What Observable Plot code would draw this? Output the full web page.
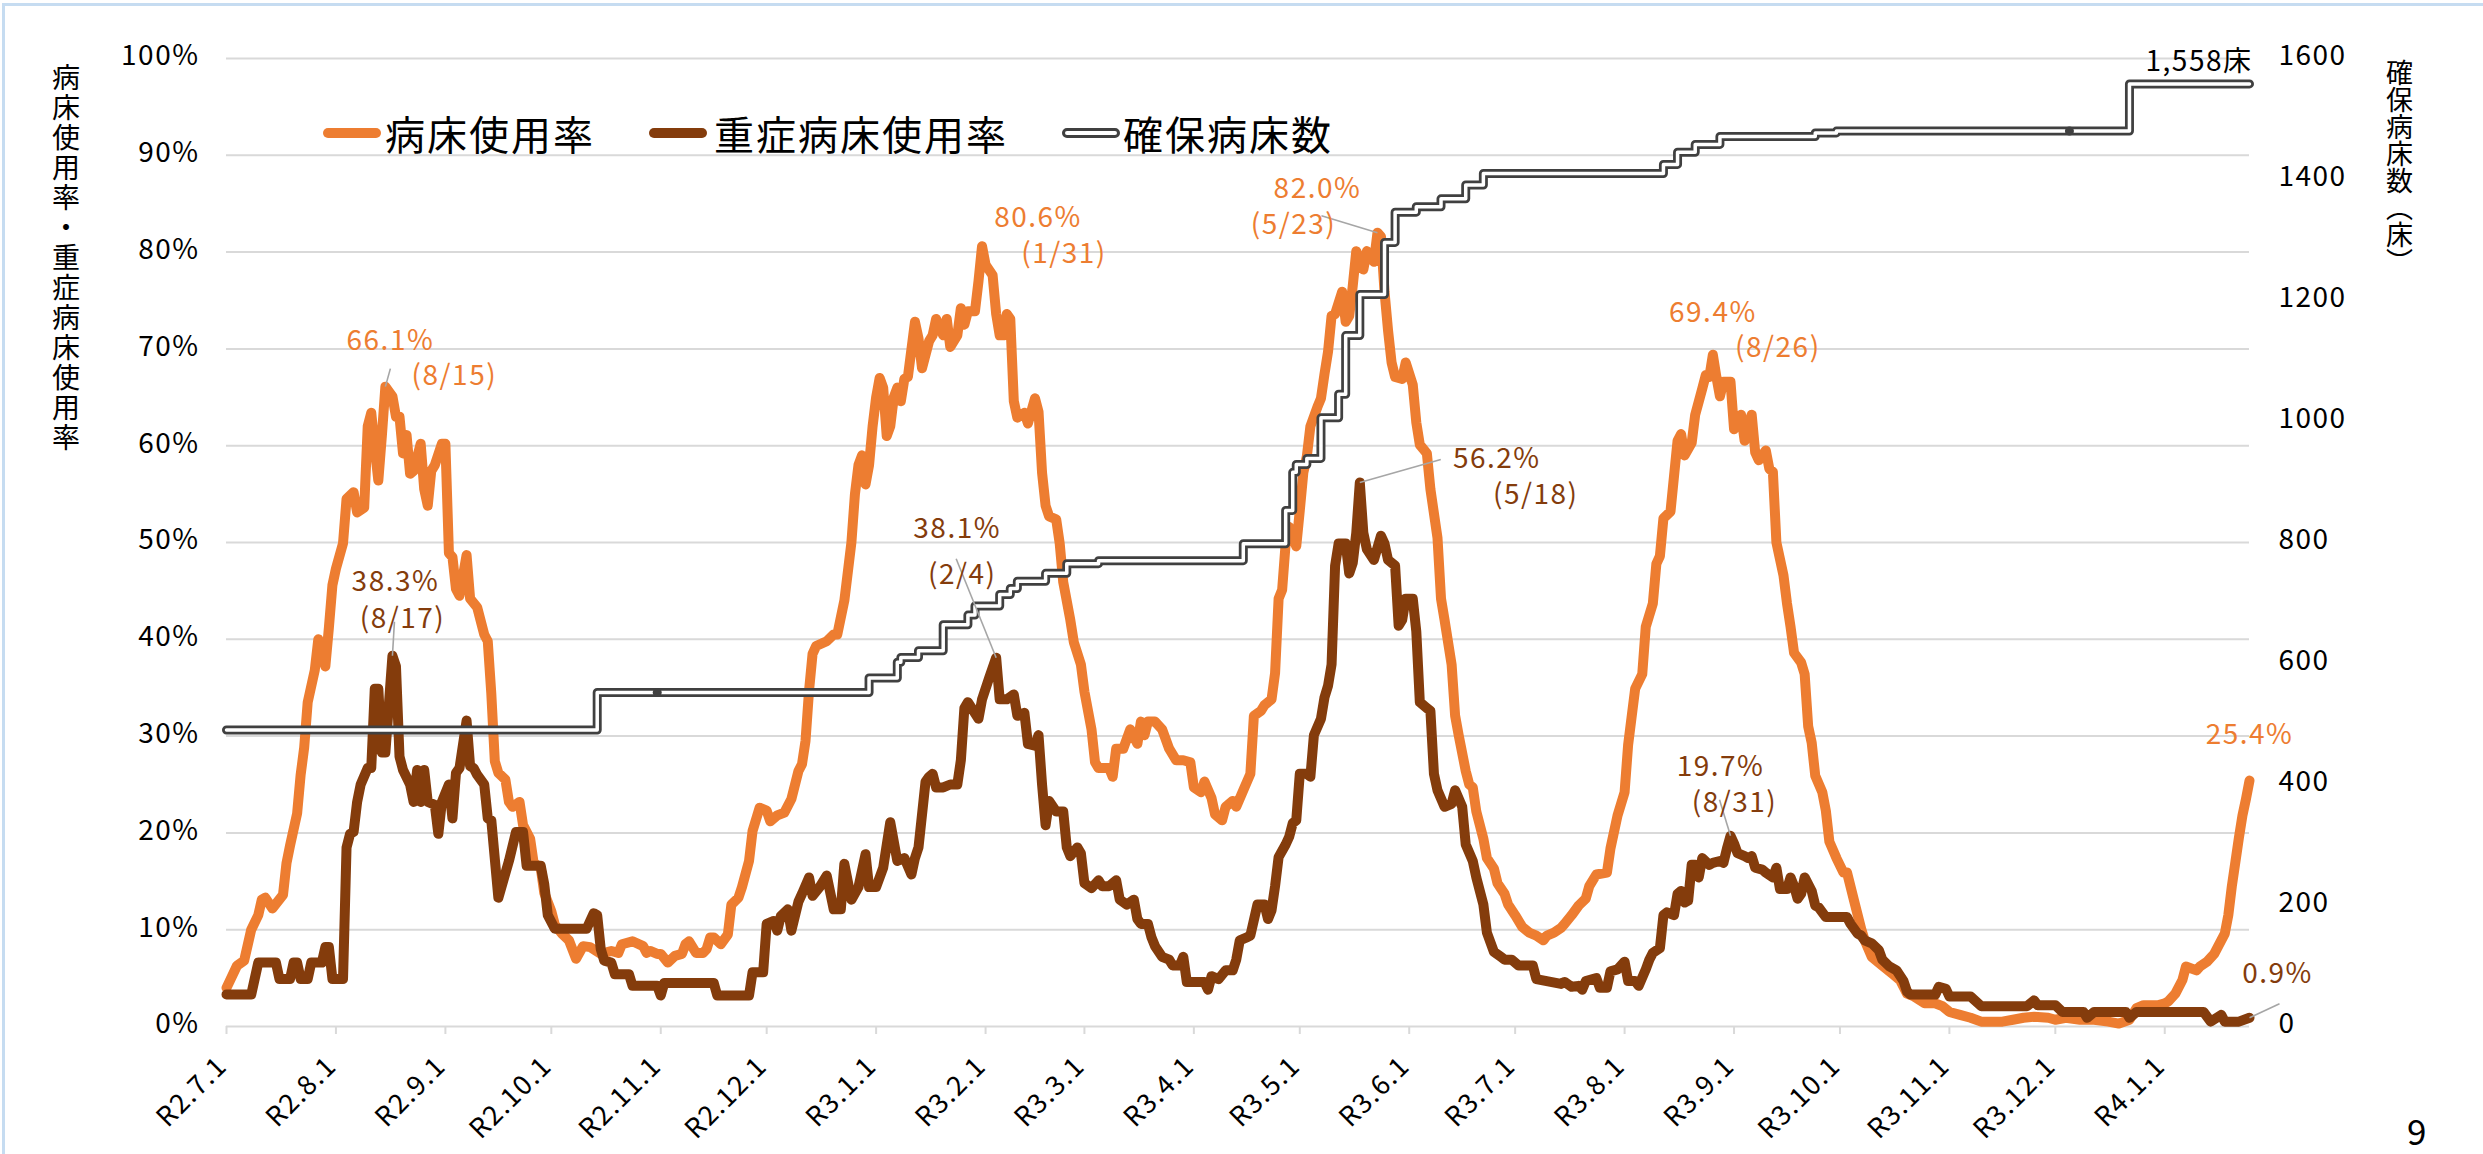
<!DOCTYPE html>
<html>
<head>
<meta charset="utf-8">
<script src="https://cdn.jsdelivr.net/npm/d3@7"></script>
<script src="https://cdn.jsdelivr.net/npm/@observablehq/plot@0.6"></script>
<style>
  html, body { margin: 0; padding: 0; background: #fff; }
  #wrap { position: relative; width: 2483px; height: 1154px; overflow: hidden; background: #fff;
          font-family: "Noto Sans CJK JP", "Noto Sans", sans-serif; color: #000; }
  #chart { position: absolute; left: 0; top: 0; }
  #chart svg text { letter-spacing: 1.5px; }
  #frame { position: absolute; left: 2px; top: 3px; right: 0; bottom: 0;
           border-top: 3px solid #c6dcf1; border-left: 3px solid #c6dcf1; pointer-events: none; }
  #legend { position: absolute; left: 323px; top: 109px; height: 48px; display: flex; align-items: center;
            font-size: 40px; line-height: 48px; letter-spacing: 2px; white-space: nowrap; }
  #legend .sw { display: inline-block; width: 58px; height: 10px; border-radius: 5px; box-sizing: border-box; }
  .vtitle { position: absolute; writing-mode: vertical-rl; white-space: nowrap; line-height: 1; }
  #page { position: absolute; left: 2407px; top: 1112px; font-size: 35px; line-height: 35px; }
</style>
</head>
<body>
<div id="wrap">
  <div id="chart"></div>
  <div id="frame"></div>
  <div id="legend"></div>
  <div id="ytitleL" class="vtitle"></div>
  <div id="ytitleR" class="vtitle"></div>
  <div id="page"></div>
</div>
<script>
// ---------------- DATA ----------------
const dateRange = ["2020-07-01", "2022-01-25"];

// 病床使用率 (%)
const occupancyRate = [
["2020-07-01",4.0],["2020-07-04",6.3],["2020-07-06",6.8],["2020-07-08",10.0],["2020-07-10",11.5],["2020-07-11",13.1],
["2020-07-12",13.3],["2020-07-14",12.2],["2020-07-17",13.6],["2020-07-18",16.9],["2020-07-19",18.7],["2020-07-21",22.0],
["2020-07-22",26.0],["2020-07-23",28.8],["2020-07-24",33.5],["2020-07-26",36.8],["2020-07-27",40.0],["2020-07-29",37.2],
["2020-07-30",41.2],["2020-07-31",45.6],["2020-08-01",47.3],["2020-08-03",49.9],["2020-08-04",54.5],["2020-08-06",55.2],
["2020-08-07",53.1],["2020-08-09",53.6],["2020-08-10",62.0],["2020-08-11",63.4],["2020-08-12",59.7],["2020-08-13",56.4],
["2020-08-14",61.0],["2020-08-15",66.1],["2020-08-17",65.1],["2020-08-18",63.0],["2020-08-19",63.0],["2020-08-20",59.2],
["2020-08-21",61.1],["2020-08-22",57.1],["2020-08-23",57.4],["2020-08-25",60.2],["2020-08-26",55.5],["2020-08-27",53.8],
["2020-08-28",57.4],["2020-08-29",58.0],["2020-08-31",60.2],["2020-09-01",60.2],["2020-09-02",48.9],["2020-09-03",48.5],
["2020-09-04",45.2],["2020-09-05",44.5],["2020-09-07",48.7],["2020-09-08",44.2],["2020-09-10",43.3],["2020-09-12",40.5],
["2020-09-13",39.8],["2020-09-14",34.4],["2020-09-15",27.4],["2020-09-16",26.2],["2020-09-18",25.5],["2020-09-19",23.2],
["2020-09-20",22.7],["2020-09-22",23.2],["2020-09-23",20.8],["2020-09-25",19.4],["2020-09-26",16.9],["2020-09-28",16.4],
["2020-09-29",13.8],["2020-10-01",11.9],["2020-10-02",10.5],["2020-10-04",9.6],["2020-10-06",8.9],["2020-10-08",7.0],
["2020-10-10",8.3],["2020-10-12",8.2],["2020-10-15",7.5],["2020-10-18",7.8],["2020-10-20",7.6],["2020-10-21",8.5],
["2020-10-24",8.8],["2020-10-27",8.3],["2020-10-28",7.6],["2020-10-29",7.8],["2020-10-31",7.5],["2020-11-01",7.5],
["2020-11-03",6.6],["2020-11-05",7.3],["2020-11-07",7.5],["2020-11-08",8.5],["2020-11-09",8.8],["2020-11-11",7.6],
["2020-11-13",7.6],["2020-11-14",8.0],["2020-11-15",9.2],["2020-11-16",9.2],["2020-11-18",8.5],["2020-11-20",9.5],
["2020-11-21",12.6],["2020-11-23",13.3],["2020-11-24",14.4],["2020-11-26",17.1],["2020-11-27",20.2],["2020-11-29",22.6],
["2020-12-01",22.3],["2020-12-02",21.2],["2020-12-04",21.8],["2020-12-06",22.1],["2020-12-08",23.5],["2020-12-10",26.4],
["2020-12-11",27.1],["2020-12-12",29.5],["2020-12-13",34.7],["2020-12-14",38.5],["2020-12-15",39.3],["2020-12-18",39.8],
["2020-12-20",40.5],["2020-12-21",40.5],["2020-12-23",44.0],["2020-12-24",47.0],["2020-12-25",50.0],["2020-12-26",55.0],
["2020-12-27",58.0],["2020-12-28",59.0],["2020-12-29",56.0],["2020-12-30",58.0],["2020-12-31",62.0],["2021-01-01",65.0],
["2021-01-02",67.0],["2021-01-03",66.0],["2021-01-04",61.0],["2021-01-05",62.0],["2021-01-06",65.0],["2021-01-07",66.0],
["2021-01-08",64.6],["2021-01-09",66.9],["2021-01-10",67.1],["2021-01-12",72.8],["2021-01-13",71.1],["2021-01-14",68.0],
["2021-01-16",70.8],["2021-01-17",71.4],["2021-01-18",73.1],["2021-01-20",71.4],["2021-01-21",73.1],["2021-01-22",70.2],
["2021-01-24",71.4],["2021-01-25",74.2],["2021-01-26",72.5],["2021-01-27",73.9],["2021-01-29",73.9],["2021-01-30",77.0],
["2021-01-31",80.6],["2021-02-01",78.7],["2021-02-03",77.6],["2021-02-04",73.6],["2021-02-05",71.4],["2021-02-06",71.4],
["2021-02-07",73.6],["2021-02-08",73.1],["2021-02-09",64.6],["2021-02-10",62.9],["2021-02-12",63.4],["2021-02-13",62.3],
["2021-02-15",64.9],["2021-02-16",63.5],["2021-02-17",57.2],["2021-02-18",53.8],["2021-02-19",52.7],["2021-02-21",52.4],
["2021-02-22",49.9],["2021-02-23",45.9],["2021-02-25",42.0],["2021-02-26",39.7],["2021-02-28",37.4],["2021-03-01",34.6],
["2021-03-03",30.7],["2021-03-04",27.3],["2021-03-05",26.7],["2021-03-07",26.7],["2021-03-08",26.7],["2021-03-09",25.8],
["2021-03-10",28.7],["2021-03-12",28.7],["2021-03-14",30.7],["2021-03-16",29.2],["2021-03-17",31.5],["2021-03-18",30.1],
["2021-03-19",31.5],["2021-03-21",31.5],["2021-03-23",30.7],["2021-03-25",28.7],["2021-03-27",27.5],["2021-03-29",27.5],
["2021-03-31",27.3],["2021-04-01",24.7],["2021-04-03",24.2],["2021-04-04",25.3],["2021-04-06",23.6],["2021-04-07",21.9],
["2021-04-09",21.3],["2021-04-10",22.7],["2021-04-12",23.3],["2021-04-13",22.7],["2021-04-15",24.4],["2021-04-17",26.1],
["2021-04-18",32.1],["2021-04-20",32.6],["2021-04-21",33.2],["2021-04-23",33.8],["2021-04-24",36.5],["2021-04-25",44.2],
["2021-04-26",45.1],["2021-04-27",49.9],["2021-04-28",51.6],["2021-04-29",50.5],["2021-04-30",49.6],["2021-05-01",53.3],
["2021-05-02",57.2],["2021-05-03",58.9],["2021-05-04",62.0],["2021-05-06",64.0],["2021-05-07",64.9],["2021-05-08",67.4],
["2021-05-09",69.7],["2021-05-10",73.4],["2021-05-11",73.6],["2021-05-13",75.9],["2021-05-14",72.8],["2021-05-15",73.4],
["2021-05-16",76.5],["2021-05-17",80.1],["2021-05-19",78.2],["2021-05-20",80.1],["2021-05-22",79.0],["2021-05-23",82.0],
["2021-05-24",81.6],["2021-05-25",75.9],["2021-05-26",71.9],["2021-05-27",68.6],["2021-05-28",67.1],["2021-05-30",66.9],
["2021-05-31",68.6],["2021-06-02",66.3],["2021-06-03",62.4],["2021-06-04",60.1],["2021-06-06",59.2],["2021-06-07",55.5],
["2021-06-09",50.5],["2021-06-10",44.2],["2021-06-11",42.0],["2021-06-13",37.4],["2021-06-14",32.1],["2021-06-15",30.1],
["2021-06-17",26.4],["2021-06-18",25.0],["2021-06-19",24.7],["2021-06-20",22.2],["2021-06-22",19.4],["2021-06-23",17.4],
["2021-06-25",16.3],["2021-06-26",14.8],["2021-06-28",13.7],["2021-06-29",12.6],["2021-07-01",11.5],["2021-07-03",10.3],
["2021-07-05",9.7],["2021-07-07",9.4],["2021-07-09",8.9],["2021-07-10",9.4],["2021-07-12",9.7],["2021-07-14",10.2],
["2021-07-15",10.6],["2021-07-17",11.5],["2021-07-19",12.5],["2021-07-21",13.2],["2021-07-22",14.5],["2021-07-24",15.7],
["2021-07-27",15.9],["2021-07-28",18.4],["2021-07-30",21.8],["2021-08-01",24.2],["2021-08-02",29.1],["2021-08-03",32.0],
["2021-08-04",34.9],["2021-08-06",36.4],["2021-08-07",41.3],["2021-08-09",43.7],["2021-08-10",47.8],["2021-08-11",48.6],
["2021-08-12",52.5],["2021-08-14",53.2],["2021-08-16",60.5],["2021-08-17",61.2],["2021-08-18",59.0],["2021-08-20",60.3],
["2021-08-21",63.2],["2021-08-23",65.9],["2021-08-24",67.3],["2021-08-25",67.1],["2021-08-26",69.4],["2021-08-27",67.1],
["2021-08-28",65.1],["2021-08-29",66.6],["2021-08-31",66.6],["2021-09-01",61.7],["2021-09-03",63.2],["2021-09-04",60.5],
["2021-09-05",62.0],["2021-09-06",63.2],["2021-09-07",59.3],["2021-09-08",58.5],["2021-09-10",59.5],["2021-09-11",57.6],
["2021-09-12",57.3],["2021-09-13",50.0],["2021-09-15",46.6],["2021-09-16",43.7],["2021-09-17",41.3],["2021-09-18",38.6],
["2021-09-20",37.6],["2021-09-21",36.4],["2021-09-22",31.0],["2021-09-23",29.3],["2021-09-24",25.9],["2021-09-26",24.2],
["2021-09-27",22.3],["2021-09-28",19.1],["2021-09-30",17.4],["2021-10-02",15.9],["2021-10-03",15.9],["2021-10-05",13.0],
["2021-10-07",10.1],["2021-10-08",8.9],["2021-10-10",7.2],["2021-10-13",6.3],["2021-10-16",5.4],["2021-10-18",4.8],
["2021-10-20",3.4],["2021-10-22",3.1],["2021-10-25",2.4],["2021-10-28",2.4],["2021-10-30",2.1],["2021-11-01",1.5],
["2021-11-04",1.2],["2021-11-07",0.9],["2021-11-10",0.5],["2021-11-12",0.5],["2021-11-16",0.5],["2021-11-19",0.7],
["2021-11-22",0.9],["2021-11-25",1.0],["2021-11-29",0.9],["2021-12-01",0.7],["2021-12-04",0.9],["2021-12-08",0.7],
["2021-12-12",0.7],["2021-12-16",0.5],["2021-12-19",0.3],["2021-12-22",0.7],["2021-12-24",1.9],["2021-12-26",2.2],
["2021-12-30",2.2],["2022-01-01",2.4],["2022-01-02",2.6],["2022-01-04",3.4],["2022-01-06",4.8],["2022-01-07",6.2],
["2022-01-10",5.8],["2022-01-11",6.2],["2022-01-13",6.7],["2022-01-15",7.5],["2022-01-18",9.6],["2022-01-19",11.5],
["2022-01-20",14.5],["2022-01-21",17.0],["2022-01-22",19.5],["2022-01-23",21.8],["2022-01-24",23.5],["2022-01-25",25.4]
];

// 重症病床使用率 (%)
const severeRate = [
["2020-07-01",3.3],["2020-07-08",3.3],["2020-07-10",6.6],["2020-07-15",6.6],["2020-07-16",4.9],["2020-07-19",4.9],
["2020-07-20",6.6],["2020-07-21",6.6],["2020-07-22",4.9],["2020-07-24",4.9],["2020-07-25",6.6],["2020-07-28",6.6],
["2020-07-29",8.2],["2020-07-30",8.2],["2020-07-31",4.9],["2020-08-03",4.9],["2020-08-04",18.5],["2020-08-05",19.9],
["2020-08-06",20.1],["2020-08-07",23.2],["2020-08-08",25.0],["2020-08-10",26.7],["2020-08-11",26.7],["2020-08-12",34.9],
["2020-08-13",34.9],["2020-08-14",28.3],["2020-08-15",28.3],["2020-08-17",38.3],["2020-08-18",37.2],["2020-08-19",27.9],
["2020-08-20",26.5],["2020-08-22",25.0],["2020-08-23",23.2],["2020-08-24",26.5],["2020-08-25",23.2],["2020-08-26",26.5],
["2020-08-27",23.2],["2020-08-29",22.9],["2020-08-30",19.9],["2020-08-31",23.2],["2020-09-02",25.0],["2020-09-03",21.5],
["2020-09-04",26.2],["2020-09-05",26.7],["2020-09-07",31.6],["2020-09-08",26.9],["2020-09-09",26.7],["2020-09-10",26.0],
["2020-09-12",25.0],["2020-09-13",21.5],["2020-09-14",21.3],["2020-09-16",13.3],["2020-09-19",17.1],["2020-09-21",20.1],
["2020-09-23",20.1],["2020-09-24",16.6],["2020-09-28",16.6],["2020-09-29",14.7],["2020-09-30",11.5],["2020-10-02",10.1],
["2020-10-11",10.1],["2020-10-13",11.7],["2020-10-14",11.5],["2020-10-15",8.0],["2020-10-16",6.8],["2020-10-18",6.6],
["2020-10-19",5.4],["2020-10-23",5.4],["2020-10-24",4.2],["2020-10-31",4.2],["2020-11-01",3.2],["2020-11-02",4.5],
["2020-11-16",4.5],["2020-11-17",3.2],["2020-11-26",3.2],["2020-11-27",5.6],["2020-11-30",5.6],["2020-12-01",10.6],
["2020-12-03",10.9],["2020-12-04",9.9],["2020-12-05",11.4],["2020-12-07",12.1],["2020-12-08",9.9],["2020-12-10",12.9],
["2020-12-11",13.7],["2020-12-13",15.4],["2020-12-14",13.5],["2020-12-16",14.4],["2020-12-18",15.6],["2020-12-20",12.1],
["2020-12-22",12.1],["2020-12-23",16.8],["2020-12-25",13.1],["2020-12-27",14.4],["2020-12-29",17.8],["2020-12-30",14.4],
["2021-01-01",14.4],["2021-01-03",16.4],["2021-01-05",21.1],["2021-01-07",17.1],["2021-01-09",17.4],["2021-01-11",15.7],
["2021-01-12",17.4],["2021-01-13",18.5],["2021-01-15",25.3],["2021-01-16",25.8],["2021-01-17",26.1],["2021-01-18",24.7],
["2021-01-20",24.7],["2021-01-22",25.0],["2021-01-24",25.0],["2021-01-25",27.5],["2021-01-26",32.9],["2021-01-27",33.5],
["2021-01-30",31.8],["2021-01-31",33.8],["2021-02-02",36.0],["2021-02-04",38.1],["2021-02-05",33.8],["2021-02-07",33.8],
["2021-02-09",34.3],["2021-02-10",32.1],["2021-02-12",32.4],["2021-02-13",29.2],["2021-02-15",29.0],["2021-02-16",30.1],
["2021-02-17",25.0],["2021-02-18",20.8],["2021-02-19",23.3],["2021-02-21",22.2],["2021-02-23",22.2],["2021-02-24",18.5],
["2021-02-25",17.6],["2021-02-27",18.5],["2021-02-28",17.9],["2021-03-01",14.8],["2021-03-03",14.3],["2021-03-05",15.1],
["2021-03-06",14.5],["2021-03-08",14.5],["2021-03-10",15.1],["2021-03-11",13.1],["2021-03-13",12.6],["2021-03-15",13.1],
["2021-03-16",11.1],["2021-03-17",10.6],["2021-03-19",10.6],["2021-03-20",9.2],["2021-03-21",8.3],["2021-03-23",7.2],
["2021-03-25",6.9],["2021-03-26",6.3],["2021-03-28",6.3],["2021-03-29",7.2],["2021-03-30",4.6],["2021-04-04",4.6],
["2021-04-05",3.8],["2021-04-06",5.2],["2021-04-08",4.9],["2021-04-10",5.8],["2021-04-12",5.8],["2021-04-13",6.9],
["2021-04-14",8.9],["2021-04-16",9.2],["2021-04-17",9.4],["2021-04-19",12.6],["2021-04-21",12.6],["2021-04-22",11.1],
["2021-04-23",12.0],["2021-04-24",14.5],["2021-04-25",17.5],["2021-04-27",18.8],["2021-04-28",19.6],["2021-04-29",21.0],
["2021-04-30",21.3],["2021-05-01",26.1],["2021-05-03",26.1],["2021-05-04",25.8],["2021-05-05",30.1],["2021-05-07",31.8],
["2021-05-08",34.0],["2021-05-09",35.2],["2021-05-10",37.4],["2021-05-11",47.6],["2021-05-12",49.9],["2021-05-14",49.9],
["2021-05-15",46.8],["2021-05-16",47.9],["2021-05-17",51.0],["2021-05-18",56.2],["2021-05-19",51.0],["2021-05-20",49.3],
["2021-05-22",48.2],["2021-05-24",50.7],["2021-05-25",49.9],["2021-05-26",48.2],["2021-05-28",47.6],["2021-05-29",41.4],
["2021-05-30",42.0],["2021-05-31",44.2],["2021-06-02",44.2],["2021-06-03",40.8],["2021-06-04",33.5],["2021-06-06",32.9],
["2021-06-07",32.6],["2021-06-08",26.1],["2021-06-09",24.4],["2021-06-11",22.7],["2021-06-13",23.0],["2021-06-14",24.4],
["2021-06-16",22.7],["2021-06-17",18.8],["2021-06-19",17.1],["2021-06-20",15.4],["2021-06-22",12.6],["2021-06-23",9.7],
["2021-06-25",7.7],["2021-06-27",7.2],["2021-06-28",6.9],["2021-06-30",6.9],["2021-07-02",6.3],["2021-07-06",6.3],
["2021-07-07",4.9],["2021-07-14",4.4],["2021-07-15",4.6],["2021-07-17",4.1],["2021-07-19",4.2],["2021-07-20",3.8],
["2021-07-21",4.7],["2021-07-24",5.0],["2021-07-25",4.0],["2021-07-27",4.0],["2021-07-28",5.7],["2021-07-30",5.9],
["2021-08-01",6.7],["2021-08-02",4.7],["2021-08-04",4.7],["2021-08-05",4.2],["2021-08-07",5.9],["2021-08-08",6.9],
["2021-08-09",7.6],["2021-08-11",8.1],["2021-08-12",11.5],["2021-08-13",11.8],["2021-08-15",11.5],["2021-08-16",13.7],
["2021-08-17",14.0],["2021-08-18",12.8],["2021-08-19",13.0],["2021-08-20",16.7],["2021-08-21",16.7],["2021-08-22",15.4],
["2021-08-23",17.4],["2021-08-25",16.7],["2021-08-26",16.9],["2021-08-28",17.1],["2021-08-29",16.9],["2021-08-30",18.4],
["2021-08-31",19.7],["2021-09-01",18.9],["2021-09-02",17.9],["2021-09-04",17.6],["2021-09-05",17.4],["2021-09-06",17.6],
["2021-09-07",16.4],["2021-09-09",16.2],["2021-09-10",15.9],["2021-09-12",15.4],["2021-09-13",16.4],["2021-09-14",14.2],
["2021-09-16",14.2],["2021-09-17",15.4],["2021-09-18",14.5],["2021-09-19",13.2],["2021-09-20",13.7],["2021-09-21",15.4],
["2021-09-23",14.0],["2021-09-24",12.5],["2021-09-25",12.3],["2021-09-27",11.3],["2021-10-03",11.3],["2021-10-04",10.6],
["2021-10-06",9.6],["2021-10-07",9.4],["2021-10-08",8.9],["2021-10-10",8.6],["2021-10-12",7.9],["2021-10-13",6.9],
["2021-10-15",6.2],["2021-10-17",5.8],["2021-10-19",4.7],["2021-10-20",3.6],["2021-10-21",3.3],["2021-10-28",3.3],
["2021-10-29",4.1],["2021-10-31",3.9],["2021-11-01",3.1],["2021-11-07",3.1],["2021-11-10",2.1],["2021-11-23",2.1],
["2021-11-25",2.7],["2021-11-26",2.2],["2021-12-01",2.2],["2021-12-03",1.5],["2021-12-09",1.5],["2021-12-10",0.9],
["2021-12-12",1.5],["2021-12-21",1.5],["2021-12-22",0.9],["2021-12-24",1.5],["2022-01-12",1.5],["2022-01-14",0.5],
["2022-01-17",1.2],["2022-01-18",0.5],["2022-01-22",0.5],["2022-01-25",0.9]
];

// 確保病床数 (床)
const securedBeds = [
["2020-07-01",490],["2020-10-14",552],["2020-12-30",576],["2021-01-07",602],["2021-01-08",610],["2021-01-13",621],
["2021-01-20",664],["2021-01-27",680],["2021-01-29",695],["2021-02-05",714],["2021-02-08",724],["2021-02-10",736],
["2021-02-18",749],["2021-02-24",765],["2021-03-05",770],["2021-04-15",798],["2021-04-27",853],["2021-04-29",916],
["2021-04-30",929],["2021-05-03",939],["2021-05-07",1006],["2021-05-12",1045],["2021-05-14",1142],["2021-05-18",1210],
["2021-05-25",1296],["2021-05-28",1346],["2021-06-03",1355],["2021-06-10",1368],["2021-06-17",1391],["2021-06-22",1410],
["2021-08-12",1425],["2021-08-16",1445],["2021-08-21",1458],["2021-08-28",1471],["2021-09-24",1477],["2021-09-30",1480],
["2021-12-22",1558],["2022-01-25",1558]
];
const bedMarkers = [["2020-10-31",552],["2021-12-05",1480]];

const xTickDates = ["2020-07-01","2020-08-01","2020-09-01","2020-10-01","2020-11-01","2020-12-01","2021-01-01",
  "2021-02-01","2021-03-01","2021-04-01","2021-05-01","2021-06-01","2021-07-01","2021-08-01","2021-09-01",
  "2021-10-01","2021-11-01","2021-12-01","2022-01-01"];
const xTickLabels = ["R2.7.1","R2.8.1","R2.9.1","R2.10.1","R2.11.1","R2.12.1","R3.1.1","R3.2.1","R3.3.1",
  "R3.4.1","R3.5.1","R3.6.1","R3.7.1","R3.8.1","R3.9.1","R3.10.1","R3.11.1","R3.12.1","R4.1.1"];
const pctTicks = [0,10,20,30,40,50,60,70,80,90,100];
const pctTickLabels = ["0%","10%","20%","30%","40%","50%","60%","70%","80%","90%","100%"];
const bedTicks = [0,200,400,600,800,1000,1200,1400,1600];
const bedTickLabels = ["0","200","400","600","800","1000","1200","1400","1600"];
const bedAxisMax = 1600;

const seriesNames = ["病床使用率","重症病床使用率","確保病床数"];
const leftAxisTitle = "病床使用率・重症病床使用率";
const rightAxisTitle = "確保病床数（床）";
const pageNumber = "9";

const peakLabels = [
  {series: "occ", date: "2020-08-15", value: 66.1, pct: "66.1%", when: "(8/15)"},
  {series: "sev", date: "2020-08-17", value: 38.3, pct: "38.3%", when: "(8/17)"},
  {series: "occ", date: "2021-01-31", value: 80.6, pct: "80.6%", when: "(1/31)"},
  {series: "sev", date: "2021-02-04", value: 38.1, pct: "38.1%", when: "(2/4)"},
  {series: "occ", date: "2021-05-23", value: 82.0, pct: "82.0%", when: "(5/23)"},
  {series: "sev", date: "2021-05-18", value: 56.2, pct: "56.2%", when: "(5/18)"},
  {series: "occ", date: "2021-08-26", value: 69.4, pct: "69.4%", when: "(8/26)"},
  {series: "sev", date: "2021-08-31", value: 19.7, pct: "19.7%", when: "(8/31)"},
  {series: "occ", date: "2022-01-25", value: 25.4, pct: "25.4%", when: ""},
  {series: "sev", date: "2022-01-25", value: 0.9, pct: "0.9%", when: ""}
];
const bedLabel = {date: "2022-01-25", value: 1558, text: "1,558床"};

// ---------------- LAYOUT / STYLE ----------------
const W = 2483, H = 1154;
const M = {left: 226, right: 234, top: 58, bottom: 128};
const ORANGE = "#ED7D31", BROWN = "#843C0C", BEDGRAY = "#404040", GRID = "#d9d9d9", LEADER = "#a6a6a6";
const labelLayout = [
  {pct: [5, -46], when: [69, -11], leader: [5, -18]},
  {pct: [3, -74], when: [10, -37], leader: [2, -34]},
  {pct: [56, -28], when: [82, 8]},
  {pct: [-39, -129], when: [-34, -83], leader: [-40, -99]},
  {pct: [-60, -44], when: [-84, -8], leader: [-56, -17]},
  {pct: [137, -23], when: [176, 13], leader: [81, -23]},
  {pct: [0, -42], when: [65, -7]},
  {pct: [-10, -69], when: [4, -33], leader: [-11, -36]},
  {pct: [0, -46]},
  {pct: [28, -44], leader: [30, -14]}
];

// ---------------- BUILD ----------------
const parseDate = d3.utcParse("%Y-%m-%d");
const toRows = arr => arr.map(([d, v]) => ({date: parseDate(d), value: v}));
const occRows = toRows(occupancyRate);
const sevRows = toRows(severeRate);
const bedRows = toRows(securedBeds);
const markerRows = toRows(bedMarkers);
const xDomain = dateRange.map(parseDate);
const PCT = v => v / 100;
const BED = v => v / bedAxisMax;

const xs = d3.scaleUtc(xDomain, [M.left, W - M.right]);
const ys = d3.scaleLinear([0, 1], [H - M.bottom, M.top]);

const xTickRows = xTickDates.map((d, i) => ({date: parseDate(d), label: xTickLabels[i]}));
const pctTickRows = pctTicks.map((t, i) => ({pos: PCT(t), label: pctTickLabels[i]}));
const bedTickRows = bedTicks.map((t, i) => ({pos: BED(t), label: bedTickLabels[i]}));

const lineStyle = {strokeWidth: 10, strokeLinejoin: "round", strokeLinecap: "round"};

const marks = [
  Plot.ruleY(pctTickRows, {y: "pos", stroke: GRID, strokeWidth: 2}),
  Plot.axisX(xTickRows.map(d => d.date), {tickSize: 8, stroke: GRID, strokeWidth: 2, tickFormat: () => ""}),
  Plot.text(xTickRows, {x: "date", text: "label", frameAnchor: "bottom", rotate: -45, textAnchor: "end",
    lineAnchor: "middle", dx: -4, dy: 35, fontSize: 27, fill: "#000"}),
  Plot.text(pctTickRows, {y: "pos", text: "label", frameAnchor: "left", textAnchor: "end", dx: -27, dy: -2,
    fontSize: 28, fill: "#000"}),
  Plot.text(bedTickRows, {y: "pos", text: "label", frameAnchor: "right", textAnchor: "start", dx: 29, dy: -2,
    fontSize: 28, fill: "#000"}),
  Plot.line(occRows, {x: "date", y: d => PCT(d.value), stroke: ORANGE, ...lineStyle}),
  Plot.line(sevRows, {x: "date", y: d => PCT(d.value), stroke: BROWN, ...lineStyle}),
  Plot.line(bedRows, {x: "date", y: d => BED(d.value), curve: "step-after", stroke: BEDGRAY, strokeWidth: 9,
    strokeLinejoin: "round", strokeLinecap: "round"}),
  Plot.line(bedRows, {x: "date", y: d => BED(d.value), curve: "step-after", stroke: "#fff", strokeWidth: 3.5,
    strokeLinejoin: "round"}),
  Plot.dot(markerRows, {x: "date", y: d => BED(d.value), r: 4.5, fill: BEDGRAY})
];

peakLabels.forEach((p, i) => {
  const L = labelLayout[i];
  const color = p.series === "occ" ? ORANGE : BROWN;
  const row = [{date: parseDate(p.date), y: PCT(p.value)}];
  if (L.leader) {
    const px = xs(row[0].date), py = ys(row[0].y);
    marks.push(Plot.link([{x1: row[0].date, y1: row[0].y,
      x2: xs.invert(px + L.leader[0]), y2: ys.invert(py + L.leader[1])}],
      {x1: "x1", y1: "y1", x2: "x2", y2: "y2", stroke: LEADER, strokeWidth: 1.6}));
  }
  marks.push(Plot.text(row, {x: "date", y: "y", text: () => p.pct, dx: L.pct[0], dy: L.pct[1],
    fill: color, fontSize: 28}));
  if (p.when) marks.push(Plot.text(row, {x: "date", y: "y", text: () => p.when, dx: L.when[0], dy: L.when[1],
    fill: color, fontSize: 28}));
});
marks.push(Plot.text([{date: parseDate(bedLabel.date), y: BED(bedLabel.value)}],
  {x: "date", y: "y", text: () => bedLabel.text, textAnchor: "end", dx: 3, dy: -22, fill: "#000", fontSize: 28}));

const chart = Plot.plot({
  width: W, height: H,
  marginLeft: M.left, marginRight: M.right, marginTop: M.top, marginBottom: M.bottom,
  style: {fontFamily: "'Noto Sans CJK JP', 'Noto Sans', sans-serif", background: "transparent", overflow: "visible"},
  x: {type: "utc", domain: xDomain, axis: null},
  y: {domain: [0, 1], axis: null},
  marks
});
document.getElementById("chart").appendChild(chart);

// legend
const legend = document.getElementById("legend");
const swatchStyles = [
  `background:${ORANGE};`,
  `background:${BROWN};`,
  `background:#fff;border:3px solid ${BEDGRAY};height:10px;border-radius:5px;`
];
const swatchGaps = [[0, 4], [54, 7], [54, 3]];
seriesNames.forEach((name, i) => {
  const sw = document.createElement("span");
  sw.className = "sw";
  sw.style.cssText += swatchStyles[i] + `margin-left:${swatchGaps[i][0]}px;margin-right:${swatchGaps[i][1]}px;`;
  const tx = document.createElement("span");
  tx.textContent = name;
  legend.appendChild(sw);
  legend.appendChild(tx);
});

// axis titles and page number
const lt = document.getElementById("ytitleL");
lt.textContent = leftAxisTitle;
lt.style.cssText += "left:52px;top:63px;font-size:28px;letter-spacing:2px;";
const rt = document.getElementById("ytitleR");
rt.textContent = rightAxisTitle;
rt.style.cssText += "left:2386px;top:59px;font-size:27px;letter-spacing:0px;";
document.getElementById("page").textContent = pageNumber;
</script>
</body>
</html>
